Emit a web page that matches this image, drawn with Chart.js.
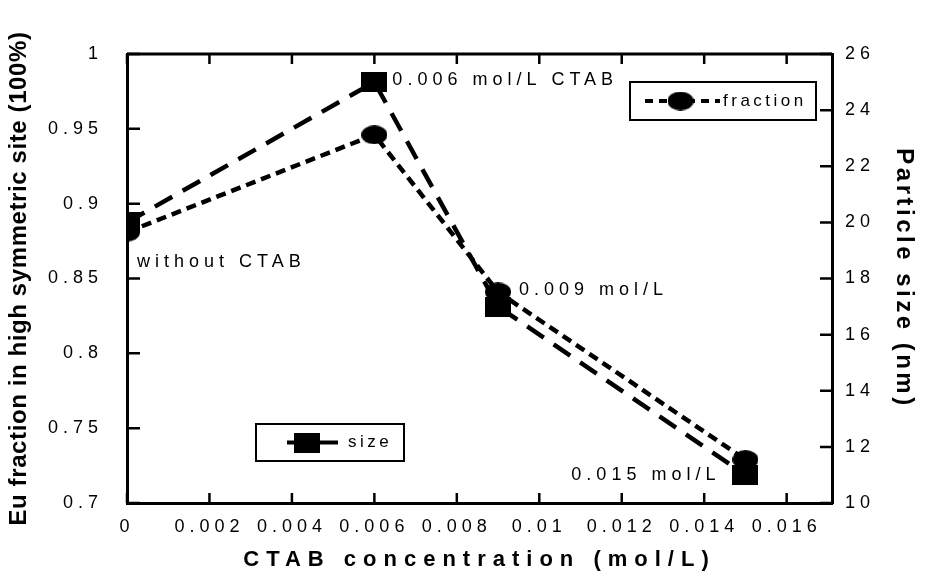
<!DOCTYPE html>
<html lang="en">
<head>
<meta charset="UTF-8">
<title>CTAB concentration vs Eu fraction and particle size</title>
<script src="https://cdn.jsdelivr.net/npm/chart.js"></script>
<style>
  html, body { margin: 0; padding: 0; background: #fff; }
  canvas { display: block; }
</style>
</head>
<body>
<canvas id="ctabChart" width="925" height="575"></canvas>
<script>
// measured values
const concentration = [0, 0.006, 0.009, 0.015];
const fraction = [0.881, 0.946, 0.841, 0.729];
const particleSize = [20.0, 25.0, 17.0, 11.0];

// tick values for the three axes
const xTicks = [0, 0.002, 0.004, 0.006, 0.008, 0.01, 0.012, 0.014, 0.016];
const fractionTicks = [0.7, 0.75, 0.8, 0.85, 0.9, 0.95, 1];
const sizeTicks = [10, 12, 14, 16, 18, 20, 22, 24, 26];

const FONT = "'Liberation Sans', Arial, sans-serif";
Chart.defaults.font.family = FONT;
Chart.defaults.color = '#000';

// the markers are a bit wider than tall, so draw them on small canvases
function marker(shape, w, h) {
  const c = document.createElement('canvas');
  c.width = w; c.height = h;
  const g = c.getContext('2d');
  g.fillStyle = '#000';
  if (shape === 'ellipse') {
    g.beginPath();
    g.ellipse(w / 2, h / 2, w / 2, h / 2, 0, 0, Math.PI * 2);
    g.fill();
  } else {
    g.fillRect(0, 0, w, h);
  }
  return c;
}
const dot = marker('ellipse', 26, 19);
const block = marker('rect', 26, 20);

// labels next to the points: dataset, point index, offset, alignment
const notes = [
  { text: 'without CTAB', ds: 0, i: 0, dx: 10, dy: 30, align: 'left' },
  { text: '0.006 mol/L CTAB', ds: 1, i: 1, dx: 18, dy: -2, align: 'left' },
  { text: '0.009 mol/L', ds: 0, i: 2, dx: 21, dy: -2, align: 'left' },
  { text: '0.015 mol/L', ds: 1, i: 3, dx: -25, dy: 0, align: 'right' }
];

const titleSpacing = { x: '7px', y: '0.6px', y1: '3.5px' };

// wide letter spacing everywhere, titles get their own
const spacingPlugin = {
  id: 'spacing',
  beforeUpdate(chart) { chart.ctx.letterSpacing = '5px'; },
  beforeDraw(chart) { chart.ctx.letterSpacing = '5px'; },
  afterLayout(chart) {
    Object.values(chart.scales).forEach(s => {
      if (s._spaced) return;
      const draw = s.drawTitle;
      s.drawTitle = function () {
        this.ctx.save();
        this.ctx.letterSpacing = titleSpacing[this.id] || '0px';
        draw.call(this);
        this.ctx.restore();
      };
      s._spaced = true;
    });
  }
};

// top border and inward tick marks
const framePlugin = {
  id: 'frame',
  beforeDatasetsDraw(chart) {
    const { ctx, chartArea: a, scales } = chart;
    ctx.save();
    ctx.strokeStyle = '#000';
    ctx.lineWidth = 3;
    ctx.beginPath();
    ctx.moveTo(a.left, a.top);
    ctx.lineTo(a.right, a.top);
    ctx.stroke();
    ctx.lineWidth = 2.5;
    ctx.beginPath();
    scales.x.ticks.forEach(t => {
      const px = scales.x.getPixelForValue(t.value);
      ctx.moveTo(px, a.bottom); ctx.lineTo(px, a.bottom - 10);
      ctx.moveTo(px, a.top); ctx.lineTo(px, a.top + 10);
    });
    scales.y.ticks.forEach(t => {
      const py = scales.y.getPixelForValue(t.value);
      ctx.moveTo(a.left, py); ctx.lineTo(a.left + 13, py);
    });
    scales.y1.ticks.forEach(t => {
      const py = scales.y1.getPixelForValue(t.value);
      ctx.moveTo(a.right, py); ctx.lineTo(a.right - 12, py);
    });
    ctx.stroke();
    ctx.restore();
  },
  afterDatasetsDraw(chart) {
    const ctx = chart.ctx;
    ctx.save();
    ctx.fillStyle = '#000';
    ctx.font = '18px ' + FONT;
    ctx.letterSpacing = '5px';
    ctx.textBaseline = 'middle';
    notes.forEach(n => {
      const p = chart.getDatasetMeta(n.ds).data[n.i];
      ctx.textAlign = n.align;
      ctx.fillText(n.text, p.x + n.dx, p.y + n.dy);
    });
    ctx.restore();
  }
};

// two separate boxed legends
const legendBoxes = [
  { ds: 0, x: 630, y: 82, w: 186, h: 38, line: [645, 720], text: 723 },
  { ds: 1, x: 256, y: 424, w: 148, h: 37, line: [287, 338], text: 348 }
];
const legendPlugin = {
  id: 'boxLegend',
  afterDraw(chart) {
    const ctx = chart.ctx;
    ctx.save();
    legendBoxes.forEach(b => {
      const d = chart.data.datasets[b.ds];
      const cy = b.y + b.h / 2;
      ctx.fillStyle = '#fff';
      ctx.fillRect(b.x, b.y, b.w, b.h);
      ctx.strokeStyle = '#000';
      ctx.lineWidth = 2;
      ctx.setLineDash([]);
      ctx.strokeRect(b.x, b.y, b.w, b.h);
      ctx.lineWidth = 4;
      ctx.setLineDash(b.ds === 0 ? [8, 6] : []);
      ctx.beginPath();
      ctx.moveTo(b.line[0], cy);
      ctx.lineTo(b.line[1], cy);
      ctx.stroke();
      ctx.setLineDash([]);
      const m = d.pointStyle;
      const mx = (b.line[0] + b.line[1]) / 2 - (b.ds === 0 ? 2 : 6);
      ctx.drawImage(m, mx - m.width / 2, cy - m.height / 2);
      ctx.fillStyle = '#000';
      ctx.font = '17px ' + FONT;
      ctx.letterSpacing = '3.5px';
      ctx.textAlign = 'left';
      ctx.textBaseline = 'middle';
      ctx.fillText(d.label, b.text, cy);
    });
    ctx.restore();
  }
};

function ticksFrom(values) {
  return scale => { scale.ticks = values.map(v => ({ value: v })); };
}

new Chart(document.getElementById('ctabChart'), {
  type: 'line',
  data: {
    datasets: [{
      label: 'fraction',
      yAxisID: 'y',
      data: concentration.map((c, i) => ({ x: c, y: fraction[i] })),
      borderColor: '#000',
      borderWidth: 4.5,
      borderDash: [10, 6],
      pointStyle: dot,
      pointRadius: 13,
      tension: 0,
      fill: false
    }, {
      label: 'size',
      yAxisID: 'y1',
      data: concentration.map((c, i) => ({ x: c, y: particleSize[i] })),
      borderColor: '#000',
      borderWidth: 4.5,
      borderDash: [20, 12],
      pointStyle: block,
      pointRadius: 13,
      tension: 0,
      fill: false
    }]
  },
  options: {
    responsive: false,
    animation: false,
    layout: { padding: { top: 54 } },
    plugins: { legend: { display: false }, tooltip: { enabled: false } },
    scales: {
      x: {
        type: 'linear',
        min: 0,
        max: 0.0171,
        afterBuildTicks: ticksFrom(xTicks),
        afterFit: s => { s.height = 72; },
        grid: { display: false, drawTicks: false },
        border: { display: true, width: 3, color: '#000' },
        ticks: {
          padding: 13,
          font: { size: 18 },
          color: '#000',
          maxRotation: 0,
          autoSkip: false,
          callback: v => String(+v.toFixed(3))
        },
        title: {
          display: true,
          text: 'CTAB concentration (mol/L)',
          font: { size: 22, weight: 'bold' },
          color: '#000',
          padding: { top: 0, bottom: 2 }
        }
      },
      y: {
        position: 'left',
        min: 0.7,
        max: 1,
        afterBuildTicks: ticksFrom(fractionTicks),
        afterFit: s => { s.width = 127; },
        grid: { display: false, drawTicks: false },
        border: { display: true, width: 3, color: '#000' },
        ticks: {
          padding: 24,
          font: { size: 18 },
          color: '#000',
          autoSkip: false,
          callback: v => String(+v.toFixed(2))
        },
        title: {
          display: true,
          text: 'Eu fraction in high symmetric site (100%)',
          font: { size: 24, weight: 'bold' },
          color: '#000',
          padding: { top: 5, bottom: 0 }
        }
      },
      y1: {
        position: 'right',
        min: 10,
        max: 26,
        afterBuildTicks: ticksFrom(sizeTicks),
        afterFit: s => { s.width = 93; },
        grid: { display: false, drawTicks: false },
        border: { display: true, width: 3, color: '#000' },
        ticks: {
          padding: 13,
          font: { size: 18 },
          color: '#000',
          autoSkip: false
        },
        title: {
          display: true,
          text: 'Particle size (nm)',
          font: { size: 24, weight: 'bold' },
          color: '#000',
          padding: { top: 7, bottom: 0 }
        }
      }
    }
  },
  plugins: [spacingPlugin, framePlugin, legendPlugin]
});
</script>
</body>
</html>
